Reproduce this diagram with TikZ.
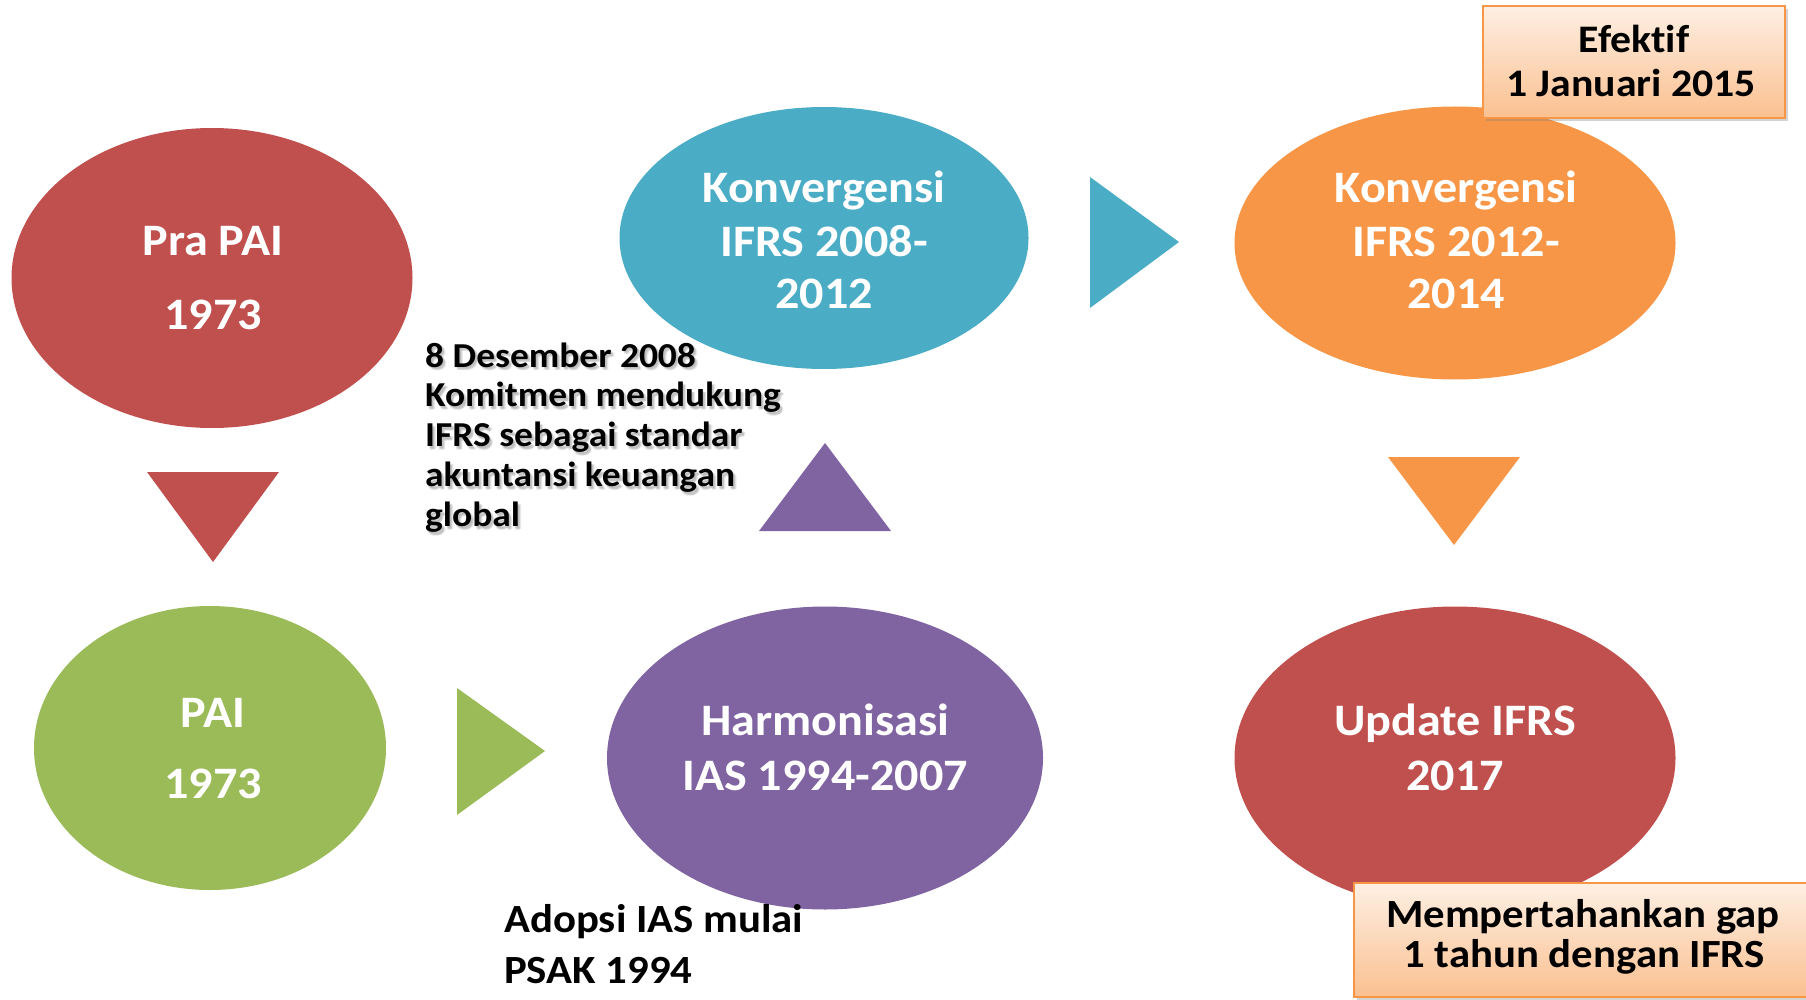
\documentclass[tikz,border=0pt]{standalone}
\usepackage{fontspec}
\setmainfont[FakeStretch=1.07, Ligatures=NoCommon]{Carlito}
\usetikzlibrary{shapes.geometric,shadows}
\definecolor{cRed}{HTML}{C0504D}
\definecolor{cGreen}{HTML}{9BBB59}
\definecolor{cPurple}{HTML}{8064A2}
\definecolor{cBlue}{HTML}{4BACC6}
\definecolor{cOrange}{HTML}{F79646}
\begin{document}
\begin{tikzpicture}[x=1pt,y=-1pt,
  stage/.style={ellipse, inner sep=0pt, draw=none},
  wtxt/.style={text=white, anchor=base, inner sep=0pt, font=\bfseries\fontsize{#1}{#1}\selectfont},
  wtxt/.default=45,
  btxt/.style={text=black, anchor=base west, inner sep=0pt, font=\bfseries\fontsize{#1}{#1}\selectfont},
  btxt/.default=35,
  ctxt/.style={text=black, anchor=base, inner sep=0pt, font=\bfseries\fontsize{#1}{#1}\selectfont},
  ctxt/.default=40,
  txtshadow/.style={text=black!60, opacity=.13},
  notebox/.style={rectangle, inner sep=0pt, draw=cOrange, line width=2pt,
    top color=cOrange!15!white, bottom color=cOrange!60!white,
    drop shadow={opacity=.35, shadow xshift=3pt, shadow yshift=-3pt}}
]
\useasboundingbox (0,0) rectangle (1806,1000);

% stages
\node[stage, fill=cRed,    minimum width=401pt, minimum height=300pt] (prapai) at (212,278) {};
\node[stage, fill=cGreen,  minimum width=352pt, minimum height=284pt] (pai)    at (210,748) {};
\node[stage, fill=cPurple, minimum width=436pt, minimum height=303pt] (harm)   at (825,758) {};
\node[stage, fill=cBlue,   minimum width=409pt, minimum height=262pt] (konv1)  at (824,238) {};
\node[stage, fill=cOrange, minimum width=441pt, minimum height=273pt] (konv2)  at (1455,243) {};
\node[stage, fill=cRed,    minimum width=441pt, minimum height=303pt] (upd)    at (1455,758) {};

% stage labels
\node[wtxt] (prapaiA) at (213,255) {Pra PAI};
\node[wtxt] (prapaiB) at (213,329) {1973};
\node[wtxt] (paiA) at (213,727) {PAI};
\node[wtxt] (paiB) at (213,798) {1973};
\node[wtxt] (harmA) at (825,735) {Harmonisasi};
\node[wtxt] (harmB) at (825,790) {IAS 1994-2007};
\node[wtxt] (konv1A) at (824,203) {Konvergensi};
\node[wtxt] (konv1B) at (824,257) {IFRS 2008-};
\node[wtxt] (konv1C) at (824,308) {2012};
\node[wtxt] (konv2A) at (1456,203) {Konvergensi};
\node[wtxt] (konv2B) at (1456,257) {IFRS 2012-};
\node[wtxt] (konv2C) at (1456,308) {2014};
\node[wtxt] (updA) at (1455,735) {Update IFRS};
\node[wtxt] (updB) at (1455,790) {2017};

% flow arrows
\fill[cRed]    (147,472) -- (279,472) -- (213,562) -- cycle;
\fill[cGreen]  (457,688) -- (457,815) -- (545,751) -- cycle;
\fill[cPurple] (759,531) -- (891,531) -- (825,443) -- cycle;
\fill[cBlue]   (1090,177) -- (1090,308) -- (1179,242) -- cycle;
\fill[cOrange] (1388,457) -- (1520,457) -- (1454,545) -- cycle;

% commitment note, with a soft shadow behind each line
\foreach \t [count=\i from 0] in {8 Desember 2008, Komitmen mendukung, IFRS sebagai standar, akuntansi keuangan, global}{
  \foreach \dx/\dy in {1.5/1.5, 2.5/2.5, 3.5/3, 2/3.5}
    \node[btxt, txtshadow] at (425+\dx,367+39.9*\i+\dy) {\t};
  \node[btxt] (note\i) at (425,367+39.9*\i) {\t};
}

% adoption note
\node[btxt=40] (adoptA) at (504,932) {Adopsi IAS mulai};
\node[btxt=40] (adoptB) at (504,983) {PSAK 1994};

% callout boxes
\node[notebox, minimum width=302pt, minimum height=112pt] (eff) at (1634,62) {};
\node[ctxt=39] (effA) at (1634,53) {Efektif};
\node[ctxt=39] (effB) at (1631,97) {1 Januari 2015};

\node[notebox, minimum width=460pt, minimum height=114pt] (gap) at (1584,940) {};
\node[ctxt] (gapA) at (1583,927) {Mempertahankan gap};
\node[ctxt] (gapB) at (1584,967) {1 tahun dengan IFRS};
\end{tikzpicture}
\end{document}
